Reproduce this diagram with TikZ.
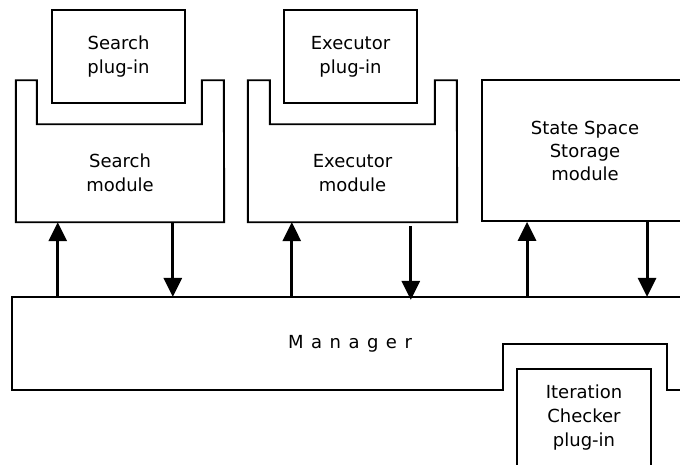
\documentclass[tikz,border=0pt]{standalone}
\usepackage{fontspec}
\setmainfont{DejaVu Sans}
\usepackage{tikz}
\usetikzlibrary{arrows.meta, positioning, calc}
\newcommand{\boxfont}{\fontsize{18pt}{24pt}\selectfont}
\tikzset{
  plugin/.style={rectangle, draw=black, line width=1.9pt,
    minimum width=133pt, minimum height=93pt, inner sep=0pt,
    align=center, font=\boxfont},
  modbody/.style={rectangle, minimum height=98pt, inner sep=0pt,
    align=center, font=\boxfont},
  outline/.style={draw=black, line width=1.9pt, line join=miter},
  arrow/.style={-{Triangle[width=18pt,length=19pt]}, line width=3pt, color=black}
}

\begin{document}
\begin{tikzpicture}[x=1pt, y=-1pt]
  \useasboundingbox (0,0) rectangle (680,464);
  \clip (0,0) rectangle (680,464);

  % plug-ins on top
  \node[plugin] (srchplug) at (118.5,56.5) {Search\\plug-in};
  \node[plugin] (execplug) at (350.5,56.5) {Executor\\plug-in};

  % modules with a slot for the plug-in
  \node[modbody, minimum width=208pt] (srchmod) at (120,173) {Search\\module};
  \node[modbody, minimum width=209pt] (execmod) at (352.5,173) {Executor\\module};
  \draw[outline] (srchmod.south west) -- ++(0,-142) -- ++(21,0) -- ++(0,44)
    -- ++(165,0) -- ++(0,-44) -- ++(22,0) -- (srchmod.south east) -- cycle;
  \draw[outline] (execmod.south west) -- ++(0,-142) -- ++(22,0) -- ++(0,44)
    -- ++(165,0) -- ++(0,-44) -- ++(22,0) -- (execmod.south east) -- cycle;
  \node[plugin, minimum width=206pt, minimum height=141pt,
    font=\fontsize{18pt}{23pt}\selectfont] (statemod) at (585,150.5)
    {State Space\\Storage\\module};

  % manager with the checker slot
  \node[rectangle, minimum width=676pt, minimum height=93pt, font=\boxfont] (mgr)
    at (350,343.5) {\spaceskip=7.5pt M a n a g e r};
  \draw[outline] (mgr.south west) -- (mgr.north west) -- (mgr.north east)
    -- (mgr.south east) -- ++(-21,0) -- ++(0,-46) -- ++(-164,0) -- ++(0,46) -- cycle;
  \node[plugin, minimum width=134pt, minimum height=98pt] (itplug) at (584,418)
    {Iteration\\Checker\\plug-in};

  % arrow feet on the modules
  \coordinate (s1) at ([xshift=42pt]srchmod.south west);
  \coordinate (s2) at ([xshift=157pt]srchmod.south west);
  \coordinate (e1) at ([xshift=44pt]execmod.south west);
  \coordinate (e2) at ([xshift=163pt,yshift=-4pt]execmod.south west);
  \coordinate (t1) at ([xshift=46pt]statemod.south west);
  \coordinate (t2) at ([xshift=166pt]statemod.south west);

  \draw[arrow] (s1 |- mgr.north) -- (s1);
  \draw[arrow] (s2) -- (s2 |- mgr.north);
  \draw[arrow] (e1 |- mgr.north) -- (e1);
  \draw[arrow] (e2) -- ([yshift=-3pt]e2 |- mgr.north);
  \draw[arrow] (t1 |- mgr.north) -- (t1);
  \draw[arrow] (t2) -- (t2 |- mgr.north);
\end{tikzpicture}
\end{document}
